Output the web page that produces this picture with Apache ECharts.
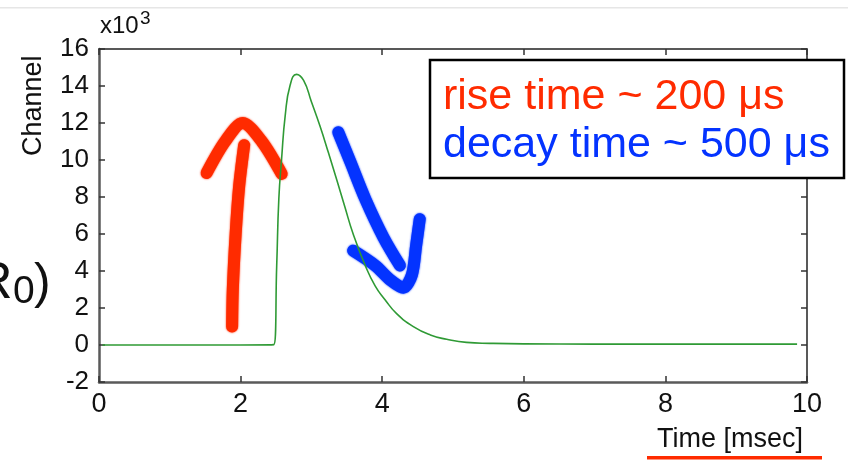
<!DOCTYPE html>
<html>
<head>
<meta charset="utf-8">
<script src="https://cdn.jsdelivr.net/npm/echarts@6/dist/echarts.min.js"></script>
<style>
  html, body { margin: 0; padding: 0; background: #fff; }
  #chart { width: 848px; height: 461px; }
</style>
</head>
<body>
<div id="chart"></div>
<script>
let chart = echarts.init(document.getElementById('chart'));

// pulse waveform (time in msec, channel in x10^3)
const pulseTime    = [0.05, 2.0, 2.47, 2.51, 2.54, 2.58, 2.63, 2.70, 2.79, 2.89, 3.00, 3.12, 3.24, 3.36, 3.47, 3.59, 3.76, 3.90, 4.04, 4.20, 4.44, 4.68, 4.91, 5.19, 5.52, 6.0, 7.0, 8.0, 9.0, 9.86];
const pulseChannel = [0.0, 0.0, 0.02, 4.3, 7.9, 10.1, 12.4, 14.05, 14.63, 14.3, 13.15, 11.85, 10.4, 8.9, 7.5, 6.0, 4.3, 3.2, 2.45, 1.71, 0.99, 0.54, 0.31, 0.14, 0.09, 0.06, 0.05, 0.05, 0.05, 0.05];

// hand-drawn arrows
const riseShaft  = [[1.88, 1.0], [1.89, 3.0], [1.93, 6.0], [1.98, 8.6], [2.05, 10.8]];
const riseHead   = [[1.52, 9.3], [1.78, 11.0], [2.03, 12.0], [2.30, 11.0], [2.58, 9.25]];
const decayShaft = [[3.38, 11.5], [3.55, 9.9], [3.76, 7.9], [4.02, 5.8], [4.25, 4.3]];
const decayHead  = [[3.59, 5.1], [3.90, 4.3], [4.12, 3.5], [4.30, 3.1], [4.42, 3.8], [4.48, 5.4], [4.53, 6.8]];

const xTicks = [0, 10, 2];
const yTicks = [-2, 16, 2];

const font = "'Liberation Sans', Arial, Helvetica, sans-serif";
const red = '#ff2b00';
const blue = '#0433ff';

let pulseData = pulseTime.map((t, i) => [t, pulseChannel[i]]);

function stroke(data, color, width) {
    return {
        type: 'line', data: data, symbol: 'none', smooth: 0.3, z: 3,
        lineStyle: {color: color, width: width, cap: 'round', join: 'round', shadowColor: color, shadowBlur: 2}
    };
}

let mainAxis = {
    axisLine: {show: true, onZero: false, lineStyle: {color: '#5a5a5a', width: 2.5}},
    axisTick: {show: true, inside: true, length: 6, lineStyle: {color: '#333', width: 1.5}},
    splitLine: {show: false}
};
let frameAxis = {
    axisLine: {show: true, onZero: false, lineStyle: {color: '#222', width: 1.5}},
    axisTick: {show: true, inside: true, length: 6, lineStyle: {color: '#333', width: 1.5}},
    axisLabel: {show: false},
    splitLine: {show: false}
};

let option = {
    animation: false,
    backgroundColor: '#fff',
    grid: {left: 99, right: 41, top: 49, bottom: 79},
    xAxis: [
        Object.assign({type: 'value', position: 'bottom', min: xTicks[0], max: xTicks[1], interval: xTicks[2],
            axisLabel: {fontSize: 27, color: '#111', fontFamily: font, margin: 9}}, mainAxis),
        Object.assign({type: 'value', position: 'top', min: xTicks[0], max: xTicks[1], interval: xTicks[2]}, frameAxis)
    ],
    yAxis: [
        Object.assign({type: 'value', position: 'left', min: yTicks[0], max: yTicks[1], interval: yTicks[2],
            axisLabel: {fontSize: 26, color: '#111', fontFamily: font, margin: 10}}, mainAxis),
        Object.assign({type: 'value', position: 'right', min: yTicks[0], max: yTicks[1], interval: yTicks[2]}, frameAxis)
    ],
    series: [
        stroke(riseShaft, red, 12),
        stroke(riseHead, red, 12),
        stroke(decayShaft, blue, 12),
        stroke(decayHead, blue, 12),
        {
            type: 'line', data: pulseData, symbol: 'none', smooth: 0.5, z: 5,
            lineStyle: {color: '#2f9a35', width: 1.6}
        }
    ],
    graphic: [
        // thin screenshot border at the top
        {type: 'rect', shape: {x: 0, y: 7, width: 848, height: 1.5}, style: {fill: '#e6e6e6'}},
        // axis names
        {type: 'text', x: 100, y: 14, style: {text: 'x10', font: '24px ' + font, fill: '#111'}},
        {type: 'text', x: 140, y: 9, style: {text: '3', font: '19px ' + font, fill: '#111'}},
        {type: 'text', x: 20, y: 156, rotation: Math.PI / 2, style: {text: 'Channel', font: '27px ' + font, fill: '#111'}},
        {type: 'text', x: 657, y: 426, style: {text: 'Time [msec]', font: '27px ' + font, fill: '#111'}},
        {type: 'rect', shape: {x: 647, y: 456, width: 175, height: 3.5}, style: {fill: red}},
        // cut-off text at the left edge
        {type: 'text', x: -25, y: 258, style: {text: 'R', font: '52px ' + font, fill: '#111'}},
        {type: 'text', x: 13, y: 273, style: {text: '0', font: '39px ' + font, fill: '#111'}},
        {type: 'text', x: 34, y: 259, style: {text: ')', font: '50px ' + font, fill: '#111'}},
        // annotation box
        {type: 'rect', z: 10, shape: {x: 430, y: 60, width: 414, height: 118},
            style: {fill: '#fff', stroke: '#000', lineWidth: 2.5}},
        {type: 'text', z: 11, x: 443, y: 76, style: {text: 'rise time ~ 200 μs', font: '43px ' + font, fill: red}},
        {type: 'text', z: 11, x: 443, y: 124, style: {text: 'decay time ~ 500 μs', font: '43px ' + font, fill: blue}}
    ]
};

chart.setOption(option);
</script>
</body>
</html>
